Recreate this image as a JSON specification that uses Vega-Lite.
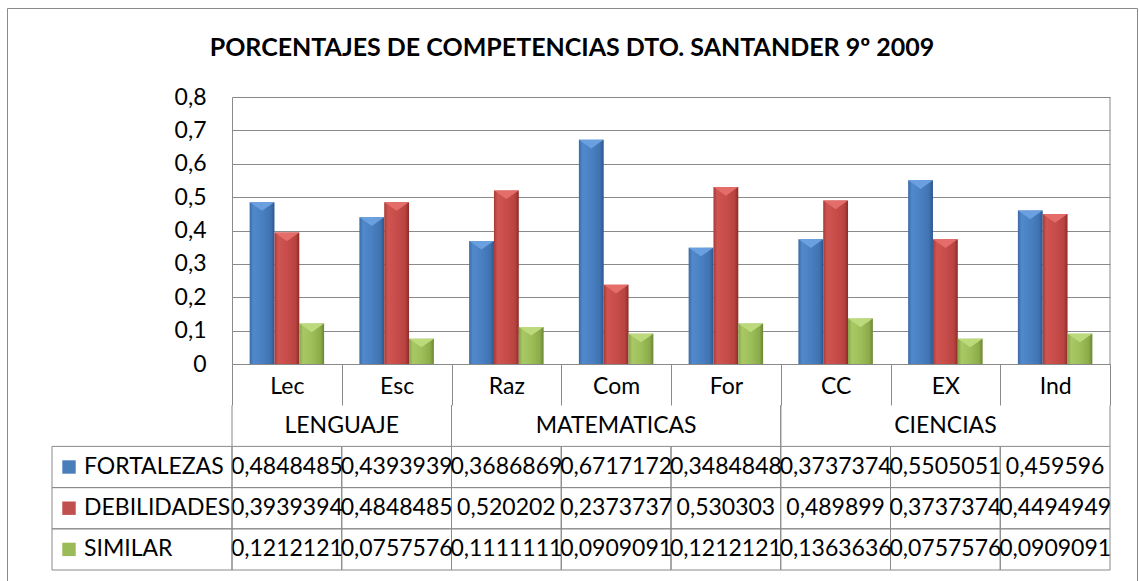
{
  "$schema": "https://vega.github.io/schema/vega-lite/v6.json",
  "width": 1130,
  "height": 575,
  "autosize": {"type": "none"},
  "padding": {"left": 7, "top": 8, "right": 2, "bottom": 0},
  "background": "white",
  "title": {
    "text": "PORCENTAJES DE COMPETENCIAS DTO. SANTANDER 9º 2009",
    "font": "Lato", "fontSize": 25, "fontWeight": "bold", "color": "black",
    "anchor": "middle", "offset": -53, "frame": "group"
  },
  "config": {
    "locale": {"number": {"decimal": ",", "thousands": ".", "grouping": [3], "currency": ["", " €"]}},
    "view": {"stroke": "#8a8a8a", "strokeWidth": 1},
    "font": "Lato",
    "axis": {"labelFont": "Lato", "labelFontSize": 23, "labelColor": "black"},
    "text": {"font": "Lato", "fontSize": 23, "color": "black"}
  },
  "datasets": {
    "main": [
      {"cat": "Lec", "series": "FORTALEZAS", "value": 0.4848485},
      {"cat": "Esc", "series": "FORTALEZAS", "value": 0.4393939},
      {"cat": "Raz", "series": "FORTALEZAS", "value": 0.3686869},
      {"cat": "Com", "series": "FORTALEZAS", "value": 0.6717172},
      {"cat": "For", "series": "FORTALEZAS", "value": 0.3484848},
      {"cat": "CC", "series": "FORTALEZAS", "value": 0.3737374},
      {"cat": "EX", "series": "FORTALEZAS", "value": 0.5505051},
      {"cat": "Ind", "series": "FORTALEZAS", "value": 0.459596},
      {"cat": "Lec", "series": "DEBILIDADES", "value": 0.3939394},
      {"cat": "Esc", "series": "DEBILIDADES", "value": 0.4848485},
      {"cat": "Raz", "series": "DEBILIDADES", "value": 0.520202},
      {"cat": "Com", "series": "DEBILIDADES", "value": 0.2373737},
      {"cat": "For", "series": "DEBILIDADES", "value": 0.530303},
      {"cat": "CC", "series": "DEBILIDADES", "value": 0.489899},
      {"cat": "EX", "series": "DEBILIDADES", "value": 0.3737374},
      {"cat": "Ind", "series": "DEBILIDADES", "value": 0.4494949},
      {"cat": "Lec", "series": "SIMILAR", "value": 0.1212121},
      {"cat": "Esc", "series": "SIMILAR", "value": 0.0757576},
      {"cat": "Raz", "series": "SIMILAR", "value": 0.1111111},
      {"cat": "Com", "series": "SIMILAR", "value": 0.0909091},
      {"cat": "For", "series": "SIMILAR", "value": 0.1212121},
      {"cat": "CC", "series": "SIMILAR", "value": 0.1363636},
      {"cat": "EX", "series": "SIMILAR", "value": 0.0757576},
      {"cat": "Ind", "series": "SIMILAR", "value": 0.0909091}
    ],
    "groups": [
      {"group": "LENGUAJE", "first": "Lec", "mid": "Lec", "last": "Esc", "n": 2},
      {"group": "MATEMATICAS", "first": "Raz", "mid": "Com", "last": "For", "n": 3},
      {"group": "CIENCIAS", "first": "CC", "mid": "EX", "last": "Ind", "n": 3}
    ]
  },
  "layer": [
    {
      "data": {"name": "main"},
      "transform": [{"filter": "datum.series === 'FORTALEZAS'"}],
      "mark": {"type": "bar", "color": {"gradient": "linear", "x1": 0, "y1": 0, "x2": 1, "y2": 0, "stops": [{"offset": 0, "color": "#3b6aa6"}, {"offset": 0.15, "color": "#5089cc"}, {"offset": 0.5, "color": "#4a80c2"}, {"offset": 0.85, "color": "#3f72b0"}, {"offset": 1, "color": "#2c568d"}]}},
      "encoding": {
        "x": {"field": "cat", "type": "nominal", "sort": null,
          "scale": {"domain": ["Lec", "Esc", "Raz", "Com", "For", "CC", "EX", "Ind"], "range": [225, 1103], "paddingInner": 0, "paddingOuter": 0},
          "axis": {"orient": "bottom", "offset": -219, "title": null, "domain": true, "domainColor": "#8a8a8a", "ticks": true, "tickBand": "extent", "tickSize": 41, "tickColor": "#8a8a8a", "labelPadding": -19, "labelBaseline": "middle", "labelAngle": 0, "grid": false}},
        "xOffset": {"field": "series", "type": "nominal", "scale": {"type": "band", "domain": ["FORTALEZAS", "DEBILIDADES", "SIMILAR"], "paddingInner": 0, "paddingOuter": 0.71}},
        "y": {"field": "value", "type": "quantitative",
          "scale": {"domain": [0, 0.8], "range": [356, 89], "nice": false},
          "axis": {"orient": "left", "offset": -225, "title": null, "values": [0, 0.1, 0.2, 0.3, 0.4, 0.5, 0.6, 0.7, 0.8], "format": ".1~f", "domain": true, "domainColor": "#8a8a8a", "ticks": false, "labelPadding": 26, "labelBaseline": "middle", "grid": true, "gridColor": "#8a8a8a", "gridWidth": 1}}
      }
    },
    {
      "data": {"name": "main"},
      "transform": [{"filter": "datum.series === 'DEBILIDADES'"}],
      "mark": {"type": "bar", "color": {"gradient": "linear", "x1": 0, "y1": 0, "x2": 1, "y2": 0, "stops": [{"offset": 0, "color": "#a73a37"}, {"offset": 0.15, "color": "#cf5551"}, {"offset": 0.5, "color": "#c84d4a"}, {"offset": 0.85, "color": "#b8433f"}, {"offset": 1, "color": "#8c2b29"}]}},
      "encoding": {
        "x": {"field": "cat", "type": "nominal", "sort": null, "scale": {"domain": ["Lec", "Esc", "Raz", "Com", "For", "CC", "EX", "Ind"], "range": [225, 1103], "paddingInner": 0, "paddingOuter": 0}, "axis": null},
        "xOffset": {"field": "series", "type": "nominal", "scale": {"type": "band", "domain": ["FORTALEZAS", "DEBILIDADES", "SIMILAR"], "paddingInner": 0, "paddingOuter": 0.71}},
        "y": {"field": "value", "type": "quantitative", "scale": {"domain": [0, 0.8], "range": [356, 89], "nice": false}, "axis": null}
      }
    },
    {
      "data": {"name": "main"},
      "transform": [{"filter": "datum.series === 'SIMILAR'"}],
      "mark": {"type": "bar", "color": {"gradient": "linear", "x1": 0, "y1": 0, "x2": 1, "y2": 0, "stops": [{"offset": 0, "color": "#86a548"}, {"offset": 0.15, "color": "#a8c866"}, {"offset": 0.5, "color": "#9dbf59"}, {"offset": 0.85, "color": "#8cab4a"}, {"offset": 1, "color": "#6b8633"}]}},
      "encoding": {
        "x": {"field": "cat", "type": "nominal", "sort": null, "scale": {"domain": ["Lec", "Esc", "Raz", "Com", "For", "CC", "EX", "Ind"], "range": [225, 1103], "paddingInner": 0, "paddingOuter": 0}, "axis": null},
        "xOffset": {"field": "series", "type": "nominal", "scale": {"type": "band", "domain": ["FORTALEZAS", "DEBILIDADES", "SIMILAR"], "paddingInner": 0, "paddingOuter": 0.71}},
        "y": {"field": "value", "type": "quantitative", "scale": {"domain": [0, 0.8], "range": [356, 89], "nice": false}, "axis": null}
      }
    },
    {
      "data": {"name": "main"},
      "mark": {"type": "point", "shape": "M-1,-1L1,-1L0,-0.3Z", "filled": true, "size": 610, "yOffset": 12.35, "opacity": 1, "strokeWidth": 0},
      "encoding": {
        "x": {"field": "cat", "type": "nominal", "sort": null, "scale": {"type": "band", "domain": ["Lec", "Esc", "Raz", "Com", "For", "CC", "EX", "Ind"], "range": [225, 1103], "paddingInner": 0, "paddingOuter": 0}, "axis": null},
        "xOffset": {"field": "series", "type": "nominal", "scale": {"type": "band", "domain": ["FORTALEZAS", "DEBILIDADES", "SIMILAR"], "paddingInner": 0, "paddingOuter": 0.71}},
        "y": {"field": "value", "type": "quantitative", "scale": {"domain": [0, 0.8], "range": [356, 89], "nice": false}, "axis": null},
        "color": {"field": "series", "type": "nominal", "scale": {"domain": ["FORTALEZAS", "DEBILIDADES", "SIMILAR"], "range": ["#6a9fe0", "#e46d69", "#bcda7c"]}, "legend": null}
      }
    },
    {
      "data": {"values": [{}]},
      "mark": {"type": "rule", "color": "#8a8a8a", "strokeWidth": 1},
      "encoding": {
        "x": {"datum": "Ind", "type": "nominal", "bandPosition": 1, "scale": {"domain": ["Lec", "Esc", "Raz", "Com", "For", "CC", "EX", "Ind"], "range": [225, 1103], "paddingInner": 0, "paddingOuter": 0}, "axis": null},
        "y": {"datum": 0, "type": "quantitative", "scale": {"domain": [0, 0.8], "range": [356, 89], "nice": false}, "axis": null},
        "y2": {"datum": 0.8}
      }
    },
    {
      "data": {"name": "main"},
      "mark": {"type": "rect", "filled": false, "stroke": "#8a8a8a", "strokeWidth": 1},
      "encoding": {
        "x": {"field": "cat", "type": "nominal", "sort": null, "scale": {"domain": ["Lec", "Esc", "Raz", "Com", "For", "CC", "EX", "Ind"], "range": [225, 1103], "paddingInner": 0, "paddingOuter": 0}, "axis": null},
        "y": {"field": "series", "type": "nominal", "sort": null, "scale": {"domain": ["cat", "grp", "FORTALEZAS", "DEBILIDADES", "SIMILAR"], "range": [356, 562], "paddingInner": 0, "paddingOuter": 0}, "axis": null}
      }
    },
    {
      "data": {"name": "main"},
      "mark": {"type": "text", "align": "center", "baseline": "middle"},
      "encoding": {
        "x": {"field": "cat", "type": "nominal", "sort": null, "scale": {"domain": ["Lec", "Esc", "Raz", "Com", "For", "CC", "EX", "Ind"], "range": [225, 1103], "paddingInner": 0, "paddingOuter": 0}, "axis": null},
        "y": {"field": "series", "type": "nominal", "sort": null, "scale": {"domain": ["cat", "grp", "FORTALEZAS", "DEBILIDADES", "SIMILAR"], "range": [356, 562], "paddingInner": 0, "paddingOuter": 0}, "axis": null},
        "text": {"field": "value", "type": "quantitative", "format": ".7~f"}
      }
    },
    {
      "data": {"name": "groups"},
      "mark": {"type": "rule", "color": "#8a8a8a", "strokeWidth": 1},
      "encoding": {
        "x": {"field": "first", "type": "nominal", "bandPosition": 0, "scale": {"domain": ["Lec", "Esc", "Raz", "Com", "For", "CC", "EX", "Ind"], "range": [225, 1103], "paddingInner": 0, "paddingOuter": 0}, "axis": null},
        "y": {"datum": "grp", "type": "nominal", "bandPosition": 0, "scale": {"domain": ["cat", "grp", "FORTALEZAS", "DEBILIDADES", "SIMILAR"], "range": [356, 562], "paddingInner": 0, "paddingOuter": 0}, "axis": null},
        "y2": {"datum": "grp", "bandPosition": 1}
      }
    },
    {
      "data": {"name": "groups"},
      "mark": {"type": "rule", "color": "#8a8a8a", "strokeWidth": 1},
      "encoding": {
        "x": {"field": "last", "type": "nominal", "bandPosition": 1, "scale": {"domain": ["Lec", "Esc", "Raz", "Com", "For", "CC", "EX", "Ind"], "range": [225, 1103], "paddingInner": 0, "paddingOuter": 0}, "axis": null},
        "y": {"datum": "grp", "type": "nominal", "bandPosition": 0, "scale": {"domain": ["cat", "grp", "FORTALEZAS", "DEBILIDADES", "SIMILAR"], "range": [356, 562], "paddingInner": 0, "paddingOuter": 0}, "axis": null},
        "y2": {"datum": "grp", "bandPosition": 1}
      }
    },
    {
      "data": {"name": "groups"},
      "transform": [{"filter": "datum.n === 2"}],
      "mark": {"type": "text", "align": "center", "baseline": "middle", "dx": 54.9},
      "encoding": {
        "x": {"field": "first", "type": "nominal", "scale": {"domain": ["Lec", "Esc", "Raz", "Com", "For", "CC", "EX", "Ind"], "range": [225, 1103], "paddingInner": 0, "paddingOuter": 0}, "axis": null},
        "y": {"datum": "grp", "type": "nominal", "scale": {"domain": ["cat", "grp", "FORTALEZAS", "DEBILIDADES", "SIMILAR"], "range": [356, 562], "paddingInner": 0, "paddingOuter": 0}, "axis": null},
        "text": {"field": "group", "type": "nominal"}
      }
    },
    {
      "data": {"name": "groups"},
      "transform": [{"filter": "datum.n === 3"}],
      "mark": {"type": "text", "align": "center", "baseline": "middle"},
      "encoding": {
        "x": {"field": "mid", "type": "nominal", "scale": {"domain": ["Lec", "Esc", "Raz", "Com", "For", "CC", "EX", "Ind"], "range": [225, 1103], "paddingInner": 0, "paddingOuter": 0}, "axis": null},
        "y": {"datum": "grp", "type": "nominal", "scale": {"domain": ["cat", "grp", "FORTALEZAS", "DEBILIDADES", "SIMILAR"], "range": [356, 562], "paddingInner": 0, "paddingOuter": 0}, "axis": null},
        "text": {"field": "group", "type": "nominal"}
      }
    },
    {
      "data": {"name": "main"},
      "transform": [{"filter": "datum.cat === 'Lec'"}],
      "mark": {"type": "rect", "filled": false, "stroke": "#8a8a8a", "strokeWidth": 1},
      "encoding": {
        "x": {"datum": "leg", "type": "nominal", "scale": {"domain": ["leg"], "range": [45, 225], "paddingInner": 0, "paddingOuter": 0}, "axis": null},
        "y": {"field": "series", "type": "nominal", "sort": null, "scale": {"domain": ["cat", "grp", "FORTALEZAS", "DEBILIDADES", "SIMILAR"], "range": [356, 562], "paddingInner": 0, "paddingOuter": 0}, "axis": null}
      }
    },
    {
      "data": {"name": "main"},
      "transform": [{"filter": "datum.cat === 'Lec'"}],
      "mark": {"type": "point", "shape": "square", "filled": true, "size": 180, "xOffset": -73, "opacity": 1},
      "encoding": {
        "x": {"datum": "leg", "type": "nominal", "scale": {"domain": ["leg"], "range": [45, 225], "paddingInner": 0, "paddingOuter": 0}, "axis": null},
        "y": {"field": "series", "type": "nominal", "sort": null, "scale": {"domain": ["cat", "grp", "FORTALEZAS", "DEBILIDADES", "SIMILAR"], "range": [356, 562], "paddingInner": 0, "paddingOuter": 0}, "axis": null},
        "color": {"field": "series", "type": "nominal", "scale": {"domain": ["FORTALEZAS", "DEBILIDADES", "SIMILAR"], "range": ["#4a7ebb", "#c0504d", "#9bbb59"]}, "legend": null}
      }
    },
    {
      "data": {"name": "main"},
      "transform": [{"filter": "datum.cat === 'Lec'"}],
      "mark": {"type": "text", "align": "left", "baseline": "middle", "dx": -58},
      "encoding": {
        "x": {"datum": "leg", "type": "nominal", "scale": {"domain": ["leg"], "range": [45, 225], "paddingInner": 0, "paddingOuter": 0}, "axis": null},
        "y": {"field": "series", "type": "nominal", "sort": null, "scale": {"domain": ["cat", "grp", "FORTALEZAS", "DEBILIDADES", "SIMILAR"], "range": [356, 562], "paddingInner": 0, "paddingOuter": 0}, "axis": null},
        "text": {"field": "series", "type": "nominal"}
      }
    }
  ],
  "resolve": {"scale": {"x": "independent", "y": "independent", "xOffset": "independent", "color": "independent"}}
}
